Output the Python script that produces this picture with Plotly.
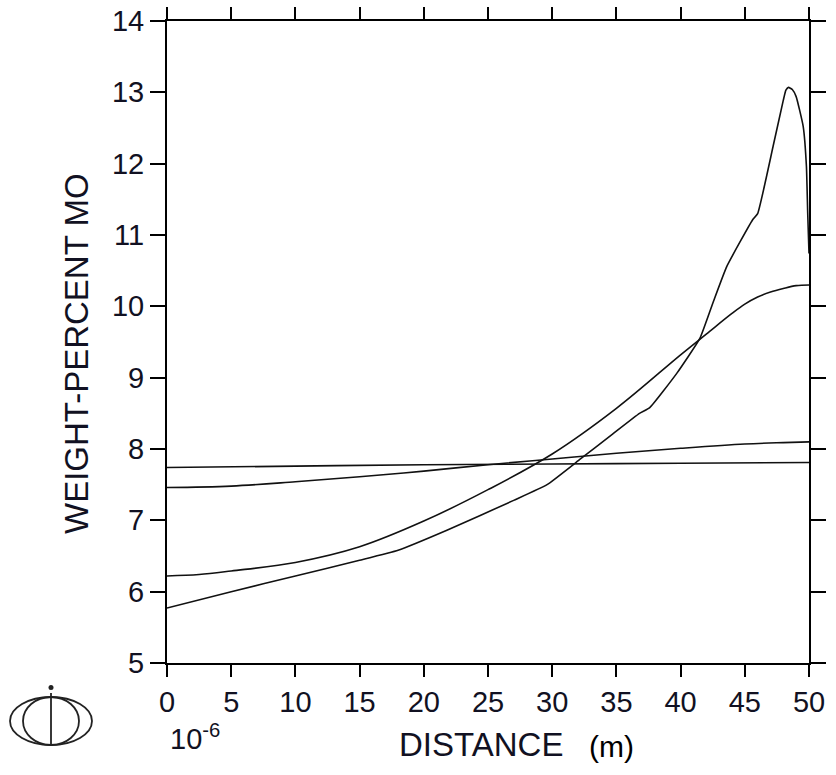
import plotly.graph_objects as go

# Mo profiles across the diffusion zone (distance in units of 1e-6 m)
dist_a = [0, 10, 20, 30, 40, 50]
mo_a = [7.74, 7.76, 7.78, 7.79, 7.80, 7.81]

dist_b = [0, 5, 10, 15, 20, 25, 30, 35, 40, 45, 48, 50]
mo_b = [7.46, 7.48, 7.54, 7.61, 7.69, 7.78, 7.86, 7.94, 8.01, 8.07, 8.09, 8.10]

dist_c = [0, 2.5, 5, 10, 15, 20, 25, 30, 35, 40, 42, 44, 45, 46, 47, 48, 49, 50]
mo_c = [6.22, 6.24, 6.29, 6.41, 6.63, 6.99, 7.43, 7.93, 8.57, 9.32, 9.61, 9.90,
        10.03, 10.13, 10.20, 10.25, 10.29, 10.30]

dist_d = [0, 5, 10, 15, 18, 21.8, 27, 29.6, 32.2, 34.7, 36.8, 37.6, 39.7, 41.5,
          42.5, 43.6, 45.6, 46.0, 47.2, 48.0, 48.2, 48.4, 48.7, 49.0, 49.55,
          49.8, 49.9, 50]
mo_d = [5.77, 6.00, 6.22, 6.44, 6.58, 6.86, 7.28, 7.50, 7.86, 8.21, 8.50, 8.58,
        9.06, 9.55, 10.04, 10.56, 11.21, 11.30, 12.24, 12.89, 13.03, 13.07,
        13.04, 12.94, 12.52, 11.96, 11.30, 10.74]

x_ticks = [0, 5, 10, 15, 20, 25, 30, 35, 40, 45, 50]
y_ticks = [5, 6, 7, 8, 9, 10, 11, 12, 13, 14]

# plot-area geometry in pixels, used to place free text and the logo
W, H = 836, 775
L, R, T, B = 167, 27, 21, 112
PW, PH = W - L - R, H - T - B


def px(x):
    return (x - L) / PW


def py(y):
    return (H - B - y) / PH


fig = go.Figure()
curves = [(dist_a, mo_a, 1.0), (dist_b, mo_b, 1.0), (dist_c, mo_c, 1.0), (dist_d, mo_d, 0.4)]
for xs, ys, smooth in curves:
    fig.add_trace(go.Scatter(x=xs, y=ys, mode="lines",
                             line=dict(color="#111111", width=1.6, shape="spline",
                                       smoothing=smooth),
                             showlegend=False, hoverinfo="skip"))

axis_common = dict(showline=True, linecolor="black", linewidth=2, mirror="ticks",
                   ticks="outside", tickwidth=2, tickcolor="black",
                   showgrid=False, zeroline=False, automargin=False,
                   tickfont=dict(family="Liberation Sans, Arial", size=29, color="#111122"))

fig.update_xaxes(range=[0, 50], tickvals=x_ticks, ticklen=12, **axis_common)
fig.update_yaxes(range=[5, 14], tickvals=y_ticks, ticklen=15, **axis_common)

title_font = dict(family="Liberation Sans, Arial", size=33, color="#111122")
annotations = [
    dict(text="WEIGHT-PERCENT MO", x=px(76), y=py(354), textangle=-90,
         xanchor="center", yanchor="middle", font=title_font),
    dict(text="DISTANCE", x=px(481), y=py(745), xanchor="center", yanchor="middle",
         font=title_font),
    dict(text="(m)", x=px(611), y=py(746), xanchor="center", yanchor="middle",
         font=dict(family="Liberation Sans, Arial", size=30, color="black")),
    dict(text="10<sup>-6</sup>", x=px(168), y=py(737), xanchor="left", yanchor="middle",
         font=dict(family="Liberation Sans, Arial", size=29, color="#111122")),
]
for a in annotations:
    a.update(xref="paper", yref="paper", showarrow=False)

# logo: two nested ellipses with a vertical stroke and a dot
logo_line = dict(color="#222222", width=1.8)
shapes = [
    dict(type="circle", x0=px(10), x1=px(92), y0=py(745), y1=py(697), line=logo_line),
    dict(type="circle", x0=px(23), x1=px(79), y0=py(745), y1=py(697), line=logo_line),
    dict(type="line", x0=px(51), x1=px(51), y0=py(746), y1=py(693), line=logo_line),
    dict(type="circle", x0=px(48.5), x1=px(53.5), y0=py(690), y1=py(685),
         fillcolor="#222222", line=dict(width=0)),
]
for s in shapes:
    s.update(xref="paper", yref="paper")

fig.update_layout(width=W, height=H, autosize=False,
                  margin=dict(l=L, r=R, t=T, b=B),
                  paper_bgcolor="white", plot_bgcolor="white",
                  annotations=annotations, shapes=shapes)

fig.write_html("out.html")
